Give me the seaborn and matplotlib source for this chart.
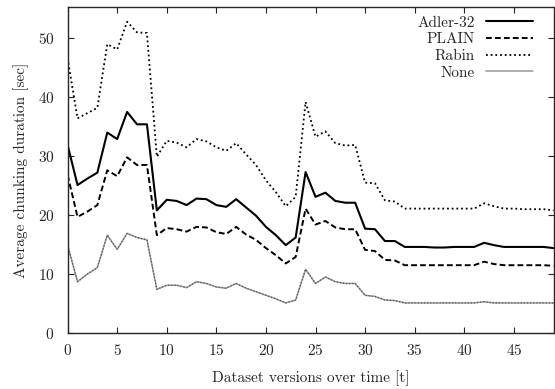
import numpy as np
import pandas as pd
import matplotlib
matplotlib.use("Agg")
import matplotlib.pyplot as plt
import seaborn as sns

versions = list(range(50))
adler = [31.9, 25.1, 26.2, 27.2, 34.0, 32.9, 37.5, 35.4, 35.4, 20.8,
         22.6, 22.4, 21.7, 22.8, 22.7, 21.7, 21.4, 22.7, 21.3, 19.9,
         18.0, 16.6, 14.9, 16.2, 27.3, 23.1, 23.8, 22.4, 22.1, 22.1,
         17.7, 17.6, 15.6, 15.6, 14.6, 14.6, 14.6, 14.5, 14.5, 14.6,
         14.6, 14.6, 15.3, 14.9, 14.6, 14.6, 14.6, 14.6, 14.6, 14.4]
plain = [26.8, 19.7, 20.6, 21.7, 27.6, 26.6, 29.8, 28.5, 28.5, 16.6,
         17.8, 17.6, 17.2, 18.0, 17.9, 17.1, 16.8, 18.0, 16.7, 15.8,
         14.4, 13.2, 11.8, 12.9, 21.1, 18.4, 19.0, 17.9, 17.6, 17.6,
         14.1, 13.9, 12.4, 12.3, 11.5, 11.5, 11.5, 11.5, 11.5, 11.5,
         11.5, 11.5, 12.1, 11.7, 11.5, 11.5, 11.5, 11.5, 11.5, 11.4]
rabin = [46.6, 36.4, 37.3, 38.2, 49.0, 48.1, 52.8, 51.0, 50.9, 29.9,
         32.6, 32.3, 31.5, 32.9, 32.5, 31.5, 30.9, 32.2, 30.3, 28.5,
         25.9, 23.9, 21.5, 23.1, 39.2, 33.3, 34.2, 32.2, 31.8, 31.9,
         25.5, 25.4, 22.5, 22.3, 21.1, 21.1, 21.1, 21.1, 21.1, 21.1,
         21.1, 21.1, 22.0, 21.5, 21.1, 21.1, 21.0, 21.0, 21.0, 20.8]
none = [14.9, 8.7, 10.0, 11.1, 16.6, 14.2, 16.9, 16.2, 15.8, 7.4,
        8.1, 8.1, 7.7, 8.7, 8.4, 7.8, 7.6, 8.4, 7.6, 7.0,
        6.4, 5.8, 5.1, 5.6, 10.8, 8.4, 9.5, 8.7, 8.4, 8.4,
        6.4, 6.2, 5.6, 5.5, 5.1, 5.1, 5.1, 5.1, 5.1, 5.1,
        5.1, 5.1, 5.3, 5.1, 5.1, 5.1, 5.1, 5.1, 5.1, 5.1]
labels = ["Adler-32", "PLAIN", "Rabin", "None"]

sns.set_style("ticks")
plt.rcParams["font.family"] = ["cmr10", "DejaVu Serif"]
plt.rcParams["axes.formatter.use_mathtext"] = True
plt.rcParams["mathtext.fontset"] = "cm"

df = pd.DataFrame({"version": versions, "Adler-32": adler, "PLAIN": plain,
                   "Rabin": rabin, "None": none})

fig = plt.figure(figsize=(5.55, 3.89), dpi=100)
ax = fig.add_axes([67.6 / 555, 56 / 389, (553.5 - 67.6) / 555, 326 / 389])

styles = {
    "Adler-32": dict(color="black", lw=1.5, ls="-"),
    "PLAIN": dict(color="black", lw=1.4, ls=(0, (3, 1.6))),
    "Rabin": dict(color="black", lw=1.3, ls=(0, (1, 1.6))),
    "None": dict(color="#9a9a9a", lw=1.1, ls="-"),
}
for name in labels:
    st = styles[name]
    sns.lineplot(data=df, x="version", y=name, ax=ax, color=st["color"],
                 linewidth=st["lw"], linestyle=st["ls"], label=name)
# dotted overlay on the "None" series
sns.lineplot(data=df, x="version", y="None", ax=ax, color="#333333",
             linewidth=0.9, linestyle=(0, (1, 1.5)), alpha=0.7, legend=False)

ax.set_xlim(0, 49)
ax.set_ylim(0, 55.3)
ax.set_xticks(range(0, 50, 5))
ax.set_yticks(range(0, 55, 10))
ax.tick_params(direction="in", length=4, width=0.8, top=True, right=True,
               labelsize=11)
ax.tick_params(axis="x", pad=7.5)
ax.tick_params(axis="y", pad=9.5)
for s in ax.spines.values():
    s.set_linewidth(1.0)
    s.set_visible(True)
ax.set_xlabel("Dataset versions over time [t]", fontsize=11, labelpad=8.5)
ax.set_ylabel("Average chunking duration [sec]", fontsize=11, labelpad=6)

handles, lbls = ax.get_legend_handles_labels()
leg = ax.legend(handles[:4], lbls[:4], loc="upper right",
                bbox_to_anchor=(0.958, 0.973), frameon=False, markerfirst=False,
                fontsize=11, handlelength=3.1, handletextpad=0.7,
                labelspacing=0.2, borderpad=0, borderaxespad=0)

fig.savefig("out.png", dpi=100)
